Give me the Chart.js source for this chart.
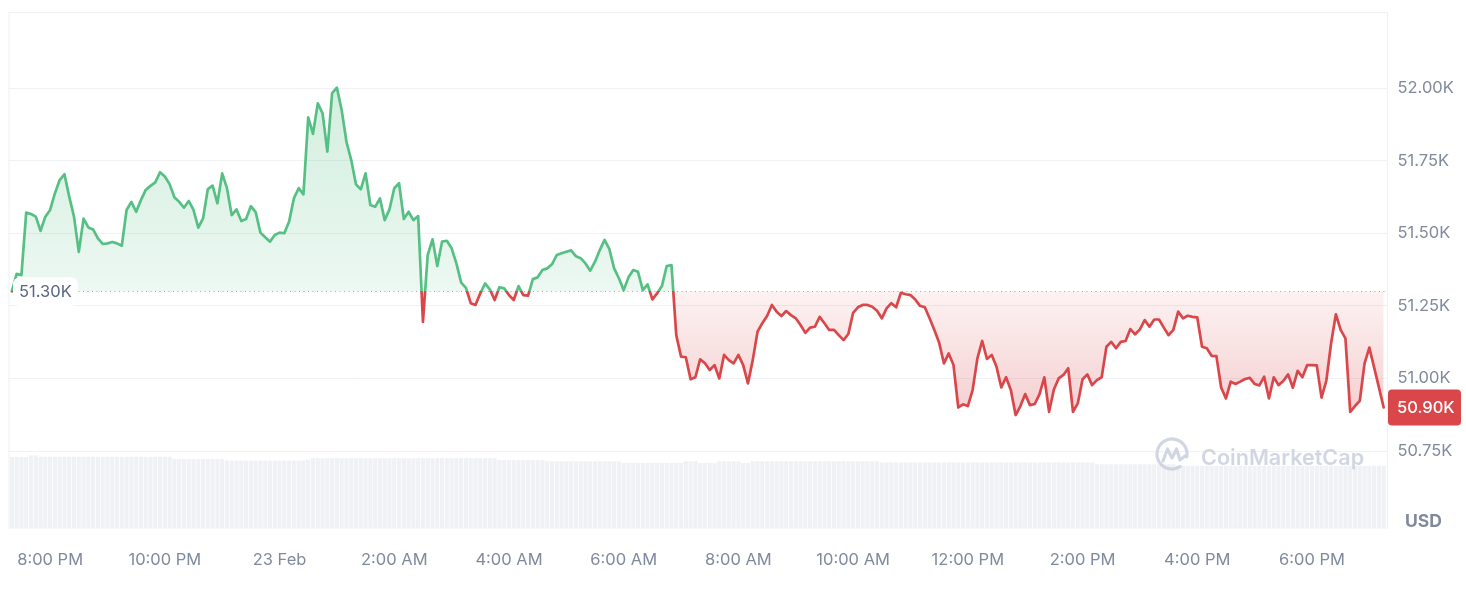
<!DOCTYPE html>
<html>
<head>
<meta charset="utf-8">
<title>BTC / USD — 24h</title>
<script src="https://cdn.jsdelivr.net/npm/chart.js@4.4.1/dist/chart.umd.min.js"></script>
<style>
  html, body { margin: 0; padding: 0; background: #fff; }
  #wrap { position: relative; width: 1466px; height: 592px; }
</style>
</head>
<body>
<div id="wrap"><canvas id="priceChart"></canvas></div>
<script>
// ============================================
// Data — 24h of 5-minute samples from 7:20 PM
// ============================================

const STEP_MIN   = 5;      // minutes between samples
const BASE_PRICE = 51.30;  // open price (K USD), dotted reference line

// price in thousands of USD
const prices = [
  51.300, 51.360, 51.356, 51.571, 51.566, 51.557, 51.508, 51.557, 51.580, 51.637, 51.683, 51.703,
  51.626, 51.557, 51.436, 51.550, 51.520, 51.513, 51.482, 51.463, 51.465, 51.470, 51.465, 51.457,
  51.580, 51.608, 51.574, 51.614, 51.649, 51.663, 51.675, 51.710, 51.695, 51.669, 51.624, 51.608,
  51.588, 51.611, 51.580, 51.519, 51.551, 51.652, 51.664, 51.603, 51.706, 51.655, 51.562, 51.582,
  51.542, 51.549, 51.593, 51.573, 51.502, 51.486, 51.471, 51.494, 51.502, 51.500, 51.540, 51.620,
  51.655, 51.634, 51.899, 51.842, 51.947, 51.913, 51.781, 51.982, 52.001, 51.924, 51.815, 51.752,
  51.668, 51.651, 51.706, 51.597, 51.591, 51.620, 51.545, 51.582, 51.655, 51.672, 51.549, 51.574,
  51.545, 51.559, 51.195, 51.425, 51.479, 51.387, 51.471, 51.474, 51.448, 51.396, 51.330, 51.312,
  51.259, 51.253, 51.293, 51.327, 51.307, 51.270, 51.314, 51.310, 51.287, 51.270, 51.318, 51.287,
  51.285, 51.342, 51.348, 51.373, 51.379, 51.393, 51.425, 51.431, 51.436, 51.441, 51.421, 51.414,
  51.396, 51.371, 51.402, 51.442, 51.477, 51.445, 51.379, 51.345, 51.304, 51.348, 51.373, 51.367,
  51.304, 51.324, 51.272, 51.293, 51.318, 51.387, 51.390, 51.149, 51.075, 51.073, 50.997, 51.004,
  51.066, 51.052, 51.029, 51.046, 51.000, 51.081, 51.063, 51.052, 51.081, 51.046, 50.983, 51.063,
  51.161, 51.190, 51.215, 51.253, 51.230, 51.215, 51.232, 51.218, 51.207, 51.184, 51.157, 51.175,
  51.178, 51.212, 51.190, 51.167, 51.167, 51.149, 51.132, 51.153, 51.226, 51.245, 51.253, 51.253,
  51.247, 51.233, 51.207, 51.241, 51.259, 51.245, 51.295, 51.290, 51.287, 51.272, 51.250, 51.245,
  51.207, 51.167, 51.123, 51.052, 51.086, 51.046, 50.900, 50.911, 50.905, 50.960, 51.069, 51.129,
  51.067, 51.081, 51.040, 50.969, 51.004, 50.960, 50.874, 50.905, 50.946, 50.908, 50.912, 50.946,
  51.004, 50.885, 50.962, 51.000, 51.012, 51.035, 50.885, 50.914, 50.997, 51.014, 50.977, 50.994,
  51.004, 51.109, 51.126, 51.104, 51.126, 51.129, 51.170, 51.152, 51.169, 51.201, 51.178, 51.203,
  51.203, 51.175, 51.149, 51.167, 51.230, 51.207, 51.216, 51.212, 51.210, 51.109, 51.104, 51.078,
  51.077, 50.969, 50.931, 50.989, 50.981, 50.989, 50.998, 51.002, 50.981, 50.976, 51.006, 50.931,
  51.004, 50.977, 50.991, 51.014, 50.968, 51.026, 51.004, 51.046, 51.046, 51.045, 50.934, 50.992,
  51.121, 51.221, 51.167, 51.138, 50.885, 50.905, 50.923, 51.052, 51.106, 51.038, 50.969, 50.900
];

// 24h volume (B USD), one bar per sample
const volumes = [
  28.4, 28.4, 28.4, 28.4, 29.0, 29.0, 28.5, 28.5, 28.5, 28.5, 28.5, 28.5, 28.5, 28.5, 28.5, 28.5, 28.5, 28.5, 28.5, 28.5, 28.5, 28.5, 28.5, 28.5,
  28.5, 28.5, 28.5, 28.5, 28.5, 28.5, 28.5, 28.5, 28.5, 28.5, 27.6, 27.6, 27.6, 27.6, 27.6, 27.6, 27.6, 27.6, 27.6, 27.6, 27.6, 27.0, 27.0, 27.0,
  27.0, 27.0, 27.0, 27.0, 27.0, 27.0, 27.0, 27.0, 27.0, 27.0, 27.0, 27.0, 27.0, 27.0, 27.4, 27.9, 27.9, 27.9, 27.9, 27.9, 27.9, 27.9, 27.9, 27.9,
  27.9, 27.9, 27.9, 27.9, 27.9, 27.9, 27.9, 27.9, 27.9, 27.9, 27.9, 27.9, 27.9, 27.9, 27.9, 27.9, 27.9, 27.9, 27.9, 27.9, 27.9, 27.9, 27.9, 27.9,
  27.9, 27.9, 27.9, 27.9, 27.9, 27.9, 27.2, 27.2, 27.2, 27.2, 27.2, 27.2, 27.2, 27.2, 27.2, 27.2, 26.7, 26.7, 26.7, 26.7, 26.7, 26.7, 26.7, 26.7,
  26.7, 26.7, 26.7, 26.7, 26.7, 26.7, 26.7, 26.7, 26.0, 26.0, 26.0, 26.0, 26.0, 26.0, 26.0, 26.0, 26.0, 26.0, 26.0, 26.0, 26.0, 26.7, 26.7, 26.7,
  26.0, 26.0, 26.0, 26.0, 26.7, 26.7, 26.7, 26.7, 26.7, 26.0, 26.0, 26.7, 26.7, 26.7, 26.7, 26.7, 26.7, 26.7, 26.7, 26.7, 26.7, 26.7, 26.7, 26.7,
  26.7, 26.7, 26.7, 26.7, 26.7, 26.7, 26.7, 26.7, 26.7, 26.7, 26.7, 26.7, 26.7, 26.7, 26.2, 26.2, 26.2, 26.2, 26.2, 26.2, 26.2, 26.2, 26.2, 26.2,
  26.2, 26.2, 26.2, 26.2, 26.2, 26.2, 26.2, 26.2, 26.2, 26.2, 26.2, 26.2, 26.2, 26.2, 26.2, 26.2, 26.2, 26.2, 26.2, 26.2, 26.2, 26.2, 26.2, 26.2,
  26.2, 26.2, 26.2, 26.2, 26.2, 26.2, 26.2, 26.2, 26.2, 26.2, 26.2, 25.5, 25.5, 25.5, 25.5, 25.5, 25.5, 25.5, 25.5, 25.5, 25.5, 25.5, 25.5, 25.5,
  25.5, 25.5, 25.5, 25.5, 24.9, 24.9, 24.9, 24.9, 24.9, 24.9, 24.9, 24.9, 24.9, 24.9, 24.9, 24.9, 24.9, 24.9, 24.9, 24.9, 24.9, 24.9, 24.9, 24.9,
  24.9, 24.9, 24.9, 24.9, 24.9, 24.9, 24.9, 24.9, 24.9, 24.9, 24.9, 24.9, 24.9, 24.9, 24.9, 24.9, 24.9, 24.9, 24.9, 24.9, 24.9, 24.9, 24.9, 24.9
];

// x ticks: minutes after 7:20 PM
const xTickMinutes = [40, 160, 280, 400, 520, 640, 760, 880, 1000, 1120, 1240, 1360];
const xTickLabels  = ['8:00 PM', '10:00 PM', '23 Feb', '2:00 AM', '4:00 AM', '6:00 AM',
                      '8:00 AM', '10:00 AM', '12:00 PM', '2:00 PM', '4:00 PM', '6:00 PM'];
const yTickValues  = [50.75, 51.00, 51.25, 51.50, 51.75, 52.00];

// ---- Palette ----
const GREEN  = '#56c084';
const RED    = '#d9474b';
const GRID   = '#eff1f4';
const MUTED  = '#808a9d';
const FONT   = 'Inter, "Noto Sans", sans-serif';

// ---- Gradient split at the base price ----
function splitGradient(chart, top, bottom) {
  const { ctx, chartArea, scales } = chart;
  if (!chartArea || !scales.y) return null;
  const t = chartArea.top, b = chartArea.bottom;
  const p = Math.min(1, Math.max(0, (scales.y.getPixelForValue(BASE_PRICE) - t) / (b - t)));
  const g = ctx.createLinearGradient(0, t, 0, b);
  top.forEach(([o, c]) => g.addColorStop(o * p, c));
  bottom.forEach(([o, c]) => g.addColorStop(p + o * (1 - p), c));
  return g;
}

const lineStroke = chart => splitGradient(chart,
  [[0, GREEN], [1, GREEN]],
  [[0, RED], [1, RED]]) || GREEN;

const areaFill = chart => splitGradient(chart,
  [[0, 'rgba(86,192,132,0.32)'], [1, 'rgba(86,192,132,0.11)']],
  [[0, 'rgba(217,71,75,0.07)'], [0.52, 'rgba(217,71,75,0.26)'], [1, 'rgba(217,71,75,0.30)']]) || 'transparent';

// drop the auto label overhang so the plot box sits where we want it
const noOverhang = axis => {
  axis.paddingTop = 0; axis.paddingBottom = 0;
  axis.paddingLeft = 0; axis.paddingRight = 0;
};

// ---- Overlay: border, base line, labels, badge, watermark ----
const overlayPlugin = {
  id: 'overlay',
  beforeDatasetsDraw(chart) {
    const { ctx, chartArea: a, scales } = chart;
    ctx.save();
    ctx.strokeStyle = GRID;
    ctx.lineWidth = 1;
    ctx.strokeRect(a.left, a.top, a.right - a.left, a.bottom - a.top);

    const y = Math.round(scales.y.getPixelForValue(BASE_PRICE)) + 0.5;
    ctx.strokeStyle = '#a4aab4';
    ctx.setLineDash([1, 3.5]);
    ctx.beginPath();
    ctx.moveTo(a.left + 2, y);
    ctx.lineTo(a.right, y);
    ctx.stroke();
    ctx.restore();
  },

  afterDatasetsDraw(chart) {
    const { ctx, chartArea: a, scales } = chart;
    ctx.save();

    // base price pill
    const by = scales.y.getPixelForValue(BASE_PRICE);
    ctx.fillStyle = '#ffffff';
    ctx.beginPath();
    ctx.roundRect(a.left + 4, by - 14, 65, 29, 7);
    ctx.fill();
    ctx.fillStyle = '#58667e';
    ctx.font = `16.5px ${FONT}`;
    ctx.textBaseline = 'middle';
    ctx.textAlign = 'left';
    ctx.fillText(BASE_PRICE.toFixed(2) + 'K', a.left + 10, by + 1);

    // watermark
    const cx = 1172, cy = 454, r = 15;
    ctx.globalAlpha = 0.85;
    ctx.strokeStyle = '#c9d0dd';
    ctx.fillStyle = '#c9d0dd';
    ctx.lineWidth = 3.2;
    ctx.lineCap = 'round';
    ctx.lineJoin = 'round';
    ctx.beginPath();
    ctx.arc(cx, cy, r, 0.32 * Math.PI, 2.06 * Math.PI);
    ctx.stroke();
    ctx.beginPath();
    ctx.moveTo(cx - 9, cy + 7);
    ctx.lineTo(cx - 4.5, cy - 5);
    ctx.lineTo(cx, cy + 4);
    ctx.lineTo(cx + 4.5, cy - 5);
    ctx.lineTo(cx + 8, cy + 6);
    ctx.lineTo(cx + 13, cy + 2);
    ctx.stroke();
    ctx.font = `600 21px ${FONT}`;
    const w = ctx.measureText('CoinMarketCap').width;
    const fs = 21 * 163 / w;
    ctx.font = `600 ${fs.toFixed(1)}px ${FONT}`;
    ctx.textBaseline = 'alphabetic';
    ctx.fillText('CoinMarketCap', 1201, 465);
    ctx.globalAlpha = 1;

    // last price badge
    const last = prices[prices.length - 1];
    const ly = scales.y.getPixelForValue(last);
    ctx.fillStyle = RED;
    ctx.beginPath();
    ctx.roundRect(a.right + 0.5, ly - 18, 73, 36, 4);
    ctx.fill();
    ctx.fillStyle = '#ffffff';
    ctx.font = `500 16.5px ${FONT}`;
    ctx.textBaseline = 'middle';
    ctx.fillText(last.toFixed(2) + 'K', a.right + 9.5, ly + 1);

    // currency label
    ctx.fillStyle = MUTED;
    ctx.font = `700 17.5px ${FONT}`;
    ctx.fillText('USD', 1405, 522);
    ctx.restore();
  }
};

// ---- Chart ----
const pricePoints  = prices.map((v, i) => ({ x: i * STEP_MIN, y: v }));
const volumePoints = volumes.map((v, i) => ({ x: i * STEP_MIN, y: v }));

new Chart(document.getElementById('priceChart'), {
  data: {
    datasets: [
      {
        type: 'line',
        label: 'Price',
        data: pricePoints,
        yAxisID: 'y',
        order: 1,
        borderColor: c => lineStroke(c.chart),
        backgroundColor: c => areaFill(c.chart),
        borderWidth: 2.7,
        borderJoinStyle: 'round',
        borderCapStyle: 'round',
        pointRadius: 0,
        tension: 0,
        fill: { target: { value: BASE_PRICE } }
      },
      {
        type: 'bar',
        label: 'Volume',
        data: volumePoints,
        yAxisID: 'vol',
        order: 2,
        backgroundColor: '#eff1f5',
        categoryPercentage: 1,
        barPercentage: 0.86
      }
    ]
  },
  options: {
    responsive: true,
    maintainAspectRatio: false,
    animation: false,
    layout: { padding: { left: 9, top: 12.5, right: 0, bottom: 0 } },
    plugins: {
      legend: { display: false },
      tooltip: { enabled: false }
    },
    scales: {
      x: {
        type: 'linear',
        min: -3,
        max: 1439,
        offset: false,
        grid: { display: false, drawTicks: false },
        border: { display: false },
        afterBuildTicks: axis => { axis.ticks = xTickMinutes.map(v => ({ value: v })); },
        afterFit: axis => { axis.height = 64; noOverhang(axis); },
        ticks: {
          color: MUTED,
          font: { family: FONT, size: 16.5 },
          padding: 22,
          autoSkip: false,
          maxRotation: 0,
          callback: v => xTickLabels[xTickMinutes.indexOf(v)] ?? ''
        }
      },
      y: {
        position: 'right',
        min: 50.485,
        max: 52.26,
        grid: { color: GRID, drawTicks: false },
        border: { display: false },
        afterBuildTicks: axis => { axis.ticks = yTickValues.map(v => ({ value: v })); },
        afterFit: axis => { axis.width = 78.5; noOverhang(axis); },
        ticks: {
          color: MUTED,
          font: { family: FONT, size: 16.5 },
          padding: 10,
          callback: v => v.toFixed(2) + 'K'
        }
      },
      vol: {
        display: false,
        min: 0,
        max: 206.4
      }
    }
  },
  plugins: [overlayPlugin]
});
</script>
</body>
</html>
